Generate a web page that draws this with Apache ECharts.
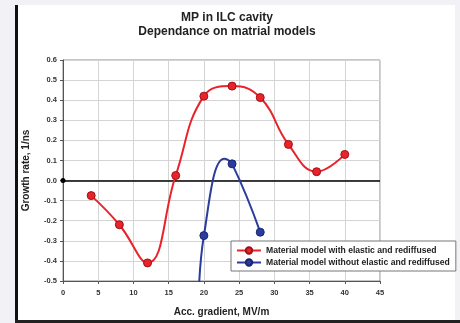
<!DOCTYPE html>
<html>
<head>
<meta charset="utf-8">
<script src="https://cdn.jsdelivr.net/npm/echarts@6/dist/echarts.min.js"></script>
<style>
html,body{margin:0;padding:0;background:#f2f2f6;}
#c{width:460px;height:323px;}
</style>
</head>
<body>
<div id="c"></div>
<script>
// ---- data ----
var titleLines = ['MP in ILC cavity', 'Dependance on matrial models'];
var xName = 'Acc. gradient, MV/m';
var yName = 'Growth rate, 1/ns';
var redName = 'Material model with elastic and rediffused';
var blueName = 'Material model without elastic and rediffused';

var redX = [4, 8, 12, 16, 20, 24, 28, 32, 36, 40];
var redY = [-0.075, -0.22, -0.41, 0.025, 0.42, 0.47, 0.413, 0.18, 0.044, 0.13];

// blue curve: marked points plus curve points
var blueX = [19.2, 20, 22.9, 24, 28];
var blueY = [-0.66, -0.274, 0.108, 0.083, -0.257];
var blueMarked = [false, true, false, true, true];

var xTicks = {min: 0, max: 45, interval: 5};
var yTicks = {min: -0.5, max: 0.6, interval: 0.1};

var chart = echarts.init(document.getElementById('c'), null, {renderer: 'canvas'});

function pts(xs, ys, marked) {
  return xs.map(function (x, i) {
    var d = {value: [x, ys[i]]};
    if (marked && !marked[i]) d.symbol = 'none';
    return d;
  });
}

var FONT = '"Liberation Sans", Arial, sans-serif';

chart.setOption({
  animation: false,
  backgroundColor: 'transparent',
  graphic: [
    {type: 'rect', shape: {x: 16, y: 5, width: 439, height: 315}, style: {fill: '#ffffff'}, z: -10},
    {type: 'rect', shape: {x: 15, y: 5, width: 3, height: 317}, style: {fill: '#111111'}, z: -9},
    {type: 'rect', shape: {x: 15, y: 320, width: 445, height: 3}, style: {fill: '#222222'}, z: -9}
  ],
  title: {
    text: titleLines.join('\n'),
    left: 222, top: 6, textAlign: 'center',
    textStyle: {fontFamily: FONT, fontSize: 12, fontWeight: 'bold', color: '#222', lineHeight: 14}
  },
  grid: {left: 63, top: 60, width: 317, height: 221, show: true, borderColor: '#8a8a8a', borderWidth: 1, backgroundColor: 'transparent'},
  legend: {
    orient: 'vertical', left: 231, top: 241,
    backgroundColor: '#ffffff', borderColor: '#777', borderWidth: 1,
    padding: [5, 6, 4, 5], itemGap: 3, itemWidth: 24, itemHeight: 8,
    textStyle: {fontFamily: FONT, fontSize: 8.6, fontWeight: 'bold', color: '#222'},
    data: [redName, blueName]
  },
  xAxis: {
    type: 'value', min: xTicks.min, max: xTicks.max, interval: xTicks.interval,
    name: xName, nameLocation: 'middle', nameGap: 26,
    nameTextStyle: {fontFamily: FONT, fontSize: 10, fontWeight: 'bold', color: '#222'},
    axisLine: {show: true, onZero: false, lineStyle: {color: '#555', width: 1}},
    axisTick: {show: true, inside: false, length: 3, lineStyle: {color: '#555'}},
    axisLabel: {fontFamily: FONT, fontSize: 7.5, fontWeight: 'bold', color: '#333', margin: 8},
    splitLine: {show: true, lineStyle: {color: '#d4d4d4', width: 1}}
  },
  yAxis: {
    type: 'value', min: yTicks.min, max: yTicks.max, interval: yTicks.interval,
    name: yName, nameLocation: 'middle', nameGap: 32, nameRotate: 90,
    nameTextStyle: {fontFamily: FONT, fontSize: 10, fontWeight: 'bold', color: '#222'},
    axisLine: {show: true, onZero: false, lineStyle: {color: '#555', width: 1}},
    axisTick: {show: true, inside: false, length: 3, lineStyle: {color: '#555'}},
    axisLabel: {fontFamily: FONT, fontSize: 7.5, fontWeight: 'bold', color: '#333', margin: 6,
      formatter: function (v) { return (Math.round(v * 10) / 10).toFixed(1); }},
    splitLine: {show: true, lineStyle: {color: '#d4d4d4', width: 1}}
  },
  series: [
    {
      name: redName, type: 'line', smooth: 0.45,
      data: pts(redX, redY),
      symbol: 'circle', symbolSize: 8,
      lineStyle: {color: '#e8232a', width: 2},
      itemStyle: {color: '#e8232a', borderColor: '#a01018', borderWidth: 1},
      z: 3,
      markLine: {
        silent: true, symbol: ['circle', 'none'], symbolSize: 5,
        label: {show: false},
        lineStyle: {color: '#000', width: 1.5, type: 'solid'},
        data: [{yAxis: 0}],
        z: 2
      }
    },
    {
      name: blueName, type: 'line', smooth: 0.45, clip: true,
      data: pts(blueX, blueY, blueMarked),
      symbol: 'circle', symbolSize: 8,
      lineStyle: {color: '#2a3c9e', width: 2},
      itemStyle: {color: '#2a3c9e', borderColor: '#1a2470', borderWidth: 1},
      z: 3
    }
  ]
});
</script>
</body>
</html>
